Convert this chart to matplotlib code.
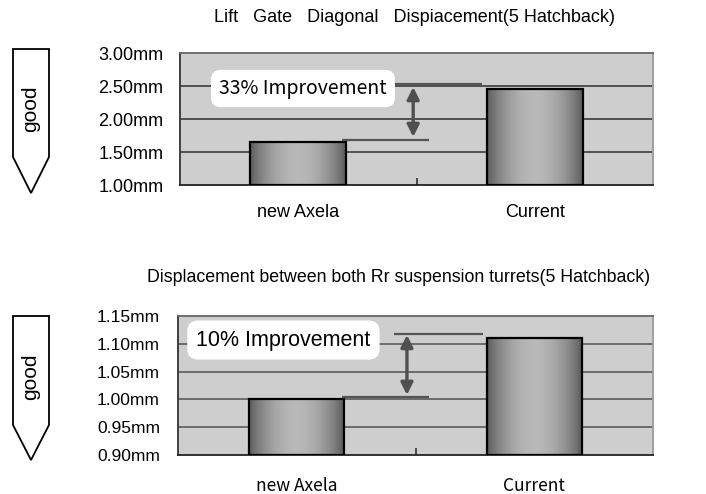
import numpy as np
import matplotlib
matplotlib.use('Agg')
import matplotlib.pyplot as plt
from matplotlib.patches import Polygon, FancyArrowPatch

# ---------------- data ----------------
categories = ['new Axela', 'Current']
lift_gate_values = [1.65, 2.46]
turret_values = [1.00, 1.11]
lift_ticks = [1.00, 1.50, 2.00, 2.50, 3.00]
turret_ticks = [0.90, 0.95, 1.00, 1.05, 1.10, 1.15]
lift_title = 'Lift   Gate   Diagonal   Dispiacement(5 Hatchback)'
turret_title = 'Displacement between both Rr suspension turrets(5 Hatchback)'
lift_note = '33% Improvement'
turret_note = '10% Improvement'

W, H = 706, 494
fig = plt.figure(figsize=(W / 100, H / 100), dpi=100)

SANS = ['Liberation Sans', 'DejaVu Sans']
GOTHIC = ['Noto Sans CJK JP', 'DejaVu Sans']


def px_rect(l, t, r, b):
    return [l / W, 1 - b / H, (r - l) / W, (b - t) / H]


def gradient_bars(ax, values, ymin, width):
    x = np.arange(len(values))
    bars = ax.bar(x, np.array(values) - ymin, bottom=ymin, width=width,
                  facecolor='none', edgecolor='black', linewidth=1.6, zorder=4)
    t = np.linspace(0, 1, 200)
    prof = 0.35 + (0.72 - 0.35) * np.sin(np.pi * t) ** 0.8
    grad = prof[np.newaxis, :]
    for rect in bars:
        x0 = rect.get_x()
        x1 = x0 + rect.get_width()
        y0 = rect.get_y()
        y1 = y0 + rect.get_height()
        im = ax.imshow(grad, cmap='gray', vmin=0, vmax=1, extent=[x0, x1, y0, y1],
                       aspect='auto', interpolation='bilinear', zorder=3)
        im.set_clip_path(rect)
    return bars


def style_axes(ax, ticks, labels_font, tick_fs, cat_fs, grid_color, ypad, xpad):
    ax.set_facecolor('#cecece')
    ax.set_xlim(-0.5, 1.5)
    ax.set_ylim(ticks[0], ticks[-1])
    ax.set_yticks(ticks)
    ax.set_yticklabels([f'{v:.2f}mm' for v in ticks], family=SANS, fontsize=tick_fs)
    ax.set_xticks(range(len(categories)))
    ax.set_xticklabels(categories, family=labels_font, fontsize=cat_fs)
    ax.set_xticks([0.5], minor=True)
    ax.tick_params(axis='x', which='major', length=0, pad=xpad)
    ax.tick_params(axis='x', which='minor', length=5, direction='in', width=1.2,
                   color='#333333')
    ax.tick_params(axis='y', length=0, pad=ypad)
    for v in ticks[1:-1]:
        ax.axhline(v, color=grid_color, lw=1.1, zorder=1)
    ax.spines['left'].set_color('#333333')
    ax.spines['bottom'].set_color('#222222')
    ax.spines['right'].set_color('#999999')
    ax.spines['top'].set_color('#666666')
    for s in ax.spines.values():
        s.set_linewidth(1.3)


def good_arrow(l, t, r, b_rect, tip):
    cx = (l + r) / 2
    pts = [(l, t), (r, t), (r, b_rect), (cx, tip), (l, b_rect)]
    pts = [(x / W, 1 - y / H) for x, y in pts]
    fig.patches.append(Polygon(pts, closed=True, facecolor='white', edgecolor='black',
                               linewidth=1.3, transform=fig.transFigure))
    fig.text(cx / W, 1 - ((t + b_rect) / 2 + 6) / H, 'good', rotation=90,
             ha='center', va='center', family=SANS, fontsize=15)


def annotate(ax, low_seg, high_seg, arrow_x, arrow_y, box_xy, text, fs, font):
    tr = ax.get_yaxis_transform()
    ax.plot(low_seg[0], [low_seg[1]] * 2, color='#555555', lw=1.6, transform=tr,
            zorder=5, solid_capstyle='butt')
    ax.plot(high_seg[0], [high_seg[1]] * 2, color='#555555', lw=1.6, transform=tr,
            zorder=5, solid_capstyle='butt')
    arr = FancyArrowPatch((arrow_x, arrow_y[0]), (arrow_x, arrow_y[1]),
                          arrowstyle='<|-|>', mutation_scale=18, color='#505050',
                          lw=2.4, transform=tr, zorder=6, shrinkA=0, shrinkB=0)
    ax.add_patch(arr)
    ax.text(box_xy[0], box_xy[1], text, transform=ax.transAxes, ha='center',
            va='center', fontsize=fs, family=font, zorder=7,
            bbox=dict(boxstyle='round,pad=0.42,rounding_size=0.5', fc='white',
                      ec='none'))


# ---------------- top panel ----------------
ax1 = fig.add_axes(px_rect(180, 53, 653, 185))
gradient_bars(ax1, lift_gate_values, lift_ticks[0], 0.405)
style_axes(ax1, lift_ticks, SANS, 13, 13, '#2e2e2e', 12, 14)
annotate(ax1, ((0.342, 0.526), lift_gate_values[0] + 0.03),
         ((0.455, 0.638), 2.53), 0.493, (2.485, 1.727),
         (0.26, 0.731), lift_note, 14, GOTHIC)
fig.text(414 / W, 1 - 17 / H, lift_title, ha='center', va='center',
         family=SANS, fontsize=13)
good_arrow(13, 49, 49, 157, 193)

# ---------------- bottom panel ----------------
ax2 = fig.add_axes(px_rect(178, 316, 653, 455))
gradient_bars(ax2, turret_values, turret_ticks[0], 0.40)
style_axes(ax2, turret_ticks, GOTHIC, 12.5, 12.5, '#505050', 13, 16)
annotate(ax2, ((0.345, 0.528), turret_values[0] + 0.004),
         ((0.455, 0.642), 1.1176), 0.482, (1.116, 1.008),
         (0.222, 0.827), turret_note, 15.5, SANS)
fig.text(399 / W, 1 - 278 / H, turret_title, ha='center', va='center',
         family=SANS, fontsize=12.8)
good_arrow(13, 316, 49, 425, 460)

fig.savefig('out.png', dpi=100)
